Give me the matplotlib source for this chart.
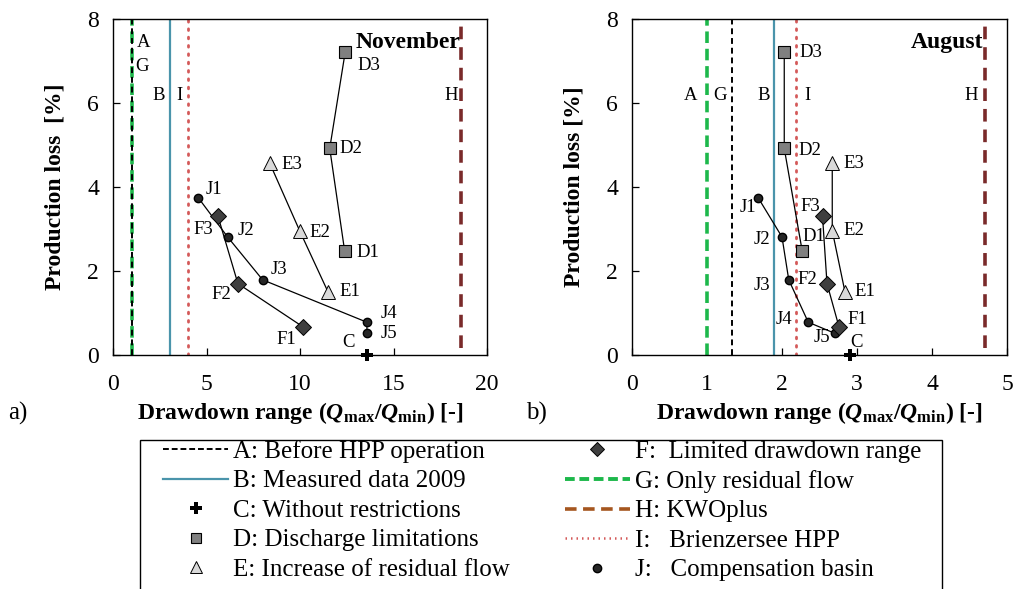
import matplotlib
matplotlib.use("Agg")
import matplotlib.pyplot as plt
from matplotlib.lines import Line2D
from matplotlib.patches import Rectangle

plt.rcParams['font.family'] = ['Liberation Serif', 'DejaVu Serif']
plt.rcParams['mathtext.fontset'] = 'custom'
plt.rcParams['mathtext.rm'] = 'Liberation Serif'
plt.rcParams['mathtext.it'] = 'Liberation Serif:italic'
plt.rcParams['mathtext.bf'] = 'Liberation Serif:bold'
plt.rcParams['mathtext.bfit'] = 'Liberation Serif:italic:bold'

# Production loss [%] per scenario (shared by both months)
loss_D = [2.47, 4.92, 7.22]
loss_E = [1.50, 2.96, 4.57]
loss_F = [0.67, 1.70, 3.31]
loss_J = [3.75, 2.81, 1.79, 0.78, 0.52]
loss_C = [0.0]

# Drawdown range Qmax/Qmin, November
nov_D = [12.39, 11.59, 12.42]
nov_E = [11.50, 9.98, 8.38]
nov_F = [10.16, 6.68, 5.61]
nov_J = [4.55, 6.13, 8.00, 13.58, 13.58]
nov_C = [13.58]
nov_lines = {'A': 1.0, 'B': 3.03, 'G': 1.0, 'H': 18.6, 'I': 4.0}

# Drawdown range Qmax/Qmin, August
aug_D = [2.27, 2.03, 2.03]
aug_E = [2.84, 2.67, 2.67]
aug_F = [2.76, 2.60, 2.54]
aug_J = [1.68, 2.00, 2.09, 2.35, 2.70]
aug_C = [2.90]
aug_lines = {'A': 1.33, 'B': 1.89, 'G': 1.0, 'H': 4.70, 'I': 2.18}

point_labels_D = ['D1', 'D2', 'D3']
point_labels_E = ['E1', 'E2', 'E3']
point_labels_F = ['F1', 'F2', 'F3']
point_labels_J = ['J1', 'J2', 'J3', 'J4', 'J5']

legend_labels = ['A: Before HPP operation', 'B: Measured data 2009',
                 'C: Without restrictions', 'D: Discharge limitations',
                 'E: Increase of residual flow', 'F:  Limited drawdown range',
                 'G: Only residual flow', 'H: KWOplus',
                 'I:   Brienzersee HPP', 'J:   Compensation basin']

C_A = 'black'
C_B = '#4a94ab'
C_G = '#1db84b'
C_H = '#7a2a2a'
C_H_LEG = '#a5561f'
C_I = '#d45a5a'
FS_LBL = 13.5
FS_AX = 17

fig = plt.figure(figsize=(10.14, 5.89), dpi=100)
W, H = 1014, 589
ax1 = fig.add_axes([113 / W, 1 - 355 / H, 374 / W, 336 / H])
ax2 = fig.add_axes([632 / W, 1 - 355 / H, 375 / W, 336 / H])


def draw_panel(ax, xmax, xticks, vlines, D, E, F, J, C, ylabel):
    ax.set_xlim(0, xmax)
    ax.set_ylim(0, 8)
    ax.axvline(vlines['G'], color=C_G, lw=2.6, ls=(0, (3.2, 1.6)), zorder=2)
    ax.axvline(vlines['A'], color=C_A, lw=1.4, ls=(0, (3, 2)), zorder=2)
    ax.axvline(vlines['B'], color=C_B, lw=1.6, zorder=2)
    ax.axvline(vlines['I'], color=C_I, lw=2.0, ls=(0, (0.6, 2.4)),
               dash_capstyle='round', zorder=2)
    ax.plot([vlines['H'], vlines['H']], [0.17, 8], color=C_H, lw=2.6,
            ls=(0, (3.5, 2.2)), zorder=2)
    ax.plot(D, loss_D, color='black', lw=0.9, marker='s', ms=8,
            mfc='#808080', mec='black', mew=0.8, zorder=4)
    ax.plot(E, loss_E, color='black', lw=0.9, marker='^', ms=10,
            mfc='#d9d9d9', mec='black', mew=0.7, zorder=4)
    ax.plot(J, loss_J, color='black', lw=0.9, marker='o', ms=6,
            mfc='#262626', mec='black', zorder=4)
    ax.plot(F, loss_F, color='black', lw=0.9, marker='D', ms=8,
            mfc='#3f3f3f', mec='black', mew=0.7, zorder=5)
    ax.plot(C, loss_C, ls='none', marker='P', ms=9, mfc='black',
            mec='black', mew=0, zorder=6, clip_on=False)
    ax.set_xticks(xticks)
    ax.set_yticks([0, 2, 4, 6, 8])
    ax.tick_params(direction='in', length=5, width=0.9, labelsize=FS_AX,
                   top=False, right=False)
    ax.tick_params(axis='x', pad=14)
    ax.tick_params(axis='y', pad=10)
    ax.set_xlabel(r'Drawdown range ($\mathbfit{Q}_{\mathbf{max}}$/$\mathbfit{Q}_{\mathbf{min}}$) [-]',
                  fontsize=FS_AX, fontweight='bold', labelpad=3)
    ax.set_ylabel(ylabel, fontsize=FS_AX, fontweight='bold', labelpad=16)
    for s in ax.spines.values():
        s.set_linewidth(1.0)


def put(ax, x, y, s, ha='left', **kw):
    ax.text(x, y, s, ha=ha, va='center', fontsize=FS_LBL, zorder=7, **kw)


# November panel
draw_panel(ax1, 20, [0, 5, 10, 15, 20], nov_lines, nov_D, nov_E, nov_F,
           nov_J, nov_C, 'Production loss  [%]')
put(ax1, 1.25, 7.43, 'A')
put(ax1, 1.2, 6.88, 'G')
put(ax1, 2.46, 6.19, 'B', ha='center')
put(ax1, 3.55, 6.19, 'I', ha='center')
put(ax1, 18.1, 6.19, 'H', ha='center')
ax1.text(12.95, 7.45, 'November', ha='left', va='center', fontsize=17,
         fontweight='bold', zorder=7)
for x, y, s in zip([13.0, 12.1, 13.05], [2.44, 4.92, 6.9], point_labels_D):
    put(ax1, x, y, s)
for x, y, s in zip([12.1, 10.5, 9.0], [1.50, 2.92, 4.53], point_labels_E):
    put(ax1, x, y, s)
for x, y, s in zip([8.75, 5.28, 4.3], [0.36, 1.45, 3.0], point_labels_F):
    put(ax1, x, y, s)
for x, y, s in zip([4.95, 6.65, 8.45, 14.3, 14.3],
                   [3.95, 2.96, 2.03, 1.0, 0.52], point_labels_J):
    put(ax1, x, y, s)
put(ax1, 12.25, 0.29, 'C')

# August panel
draw_panel(ax2, 5, [0, 1, 2, 3, 4, 5], aug_lines, aug_D, aug_E, aug_F,
           aug_J, aug_C, 'Production loss [%]')
put(ax2, 0.785, 6.19, 'A', ha='center')
put(ax2, 1.17, 6.19, 'G', ha='center')
put(ax2, 1.75, 6.19, 'B', ha='center')
put(ax2, 2.34, 6.19, 'I', ha='center')
put(ax2, 4.52, 6.19, 'H', ha='center')
ax2.text(4.69, 7.45, 'August', ha='right', va='center', fontsize=17,
         fontweight='bold', zorder=7)
for x, y, s in zip([2.27, 2.22, 2.23], [2.81, 4.87, 7.2], point_labels_D):
    put(ax2, x, y, s)
for x, y, s in zip([2.96, 2.82, 2.82], [1.51, 2.96, 4.57], point_labels_E):
    put(ax2, x, y, s)
for x, y, s in zip([2.87, 2.21, 2.25], [0.84, 1.79, 3.54], point_labels_F):
    put(ax2, x, y, s)
for x, y, s in zip([1.66, 1.85, 1.85, 2.14, 2.64],
                   [3.5, 2.74, 1.66, 0.84, 0.42], point_labels_J):
    put(ax2, x, y, s, ha='right')
put(ax2, 2.91, 0.29, 'C')

fig.text(8 / W, 1 - 413 / H, 'a)', fontsize=18, va='center', ha='left')
fig.text(526 / W, 1 - 413 / H, 'b)', fontsize=18, va='center', ha='left')

# Legend: frame drawn separately so it runs off the lower edge
frame = Rectangle((139.5 / W, -0.05), (942 - 139.5) / W, (1 - 440 / H) + 0.05,
                  transform=fig.transFigure, fill=False, edgecolor='black',
                  lw=1.0, zorder=1)
fig.patches.append(frame)

handles = [
    Line2D([], [], color=C_A, lw=1.4, ls=(0, (3, 1.5))),
    Line2D([], [], color=C_B, lw=1.6),
    Line2D([], [], ls='none', marker='P', ms=8, mfc='black', mec='black', mew=0),
    Line2D([], [], ls='none', marker='s', ms=7, mfc='#808080', mec='black', mew=0.8),
    Line2D([], [], ls='none', marker='^', ms=8, mfc='#d9d9d9', mec='black', mew=0.7),
    Line2D([], [], ls='none', marker='D', ms=7, mfc='#3f3f3f', mec='black', mew=0.7),
    Line2D([], [], color=C_G, lw=2.8, ls=(0, (2.5, 1.2))),
    Line2D([], [], color=C_H_LEG, lw=2.6, ls=(0, (3.2, 1.8))),
    Line2D([], [], color=C_I, lw=1.8, ls=(0, (0.6, 1.6))),
    Line2D([], [], ls='none', marker='o', ms=6, mfc='#262626', mec='black'),
]
leg = fig.legend(handles, legend_labels, ncol=2, loc='upper left',
                 bbox_to_anchor=(163 / W, 1 - 440 / H), fontsize=18,
                 frameon=False, handlelength=2.6, handletextpad=0.2,
                 columnspacing=2.2, labelspacing=0.28, borderpad=0,
                 borderaxespad=0)

fig.savefig('out.png', dpi=100)
